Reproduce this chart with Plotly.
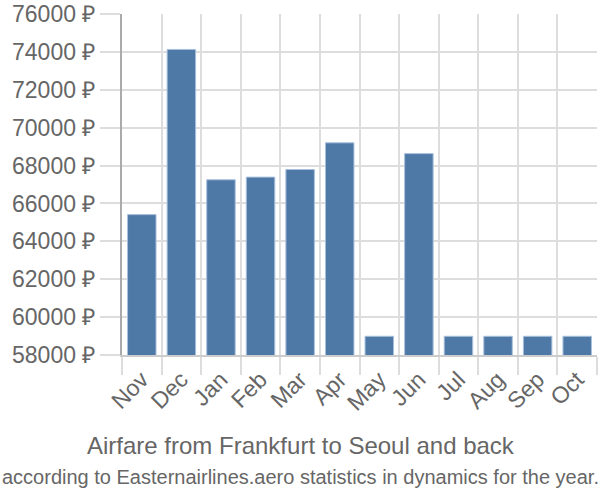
import plotly.graph_objects as go

months = ["Nov", "Dec", "Jan", "Feb", "Mar", "Apr", "May", "Jun", "Jul", "Aug", "Sep", "Oct"]
prices = [65410, 74130, 67250, 67390, 67790, 69200, 58990, 68630, 58990, 58990, 58990, 58990]
y_ticks = [58000, 60000, 62000, 64000, 66000, 68000, 70000, 72000, 74000, 76000]
y_labels = [f"{v} ₽" for v in y_ticks]

fig = go.Figure(go.Bar(
    x=months, y=prices,
    marker=dict(color="#4e79a7", line=dict(color="#a9c1dd", width=1)),
    width=0.72,
))

font = "Liberation Sans, Arial, sans-serif"
fig.update_layout(
    width=600, height=500,
    margin=dict(l=122, r=3, t=14, b=145),
    plot_bgcolor="white", paper_bgcolor="white",
    showlegend=False,
    font=dict(family=font, color="#666666", size=18),
)
fig.add_annotation(text="Airfare from Frankfurt to Seoul and back", xref="paper", yref="paper",
                   x=(301 - 122) / 475, y=-(445 - 355) / 341, showarrow=False,
                   font=dict(size=24, color="#666666"), xanchor="center", yanchor="middle")
fig.add_annotation(text="according to Easternairlines.aero statistics in dynamics for the year.",
                   xref="paper", yref="paper",
                   x=(300 - 122) / 475, y=-(477 - 355) / 341, showarrow=False,
                   font=dict(size=20, color="#666666"), xanchor="center", yanchor="middle")

fig.update_xaxes(
    type="category", tickson="boundaries", ticks="outside", ticklen=18,
    tickcolor="#dddddd", tickwidth=2, showgrid=True, gridcolor="#dddddd", gridwidth=2,
    showline=True, linecolor="#cccccc", linewidth=2, tickangle=-45,
    tickfont=dict(size=23, color="#666666"), automargin=False,
)
fig.update_yaxes(
    range=[58000, 76000], tickvals=y_ticks, ticktext=y_labels,
    ticks="outside", ticklen=20, tickcolor="#dddddd", tickwidth=2,
    showgrid=True, gridcolor="#dddddd", gridwidth=2,
    showline=True, linecolor="#aaaaaa", linewidth=2,
    tickfont=dict(size=23, color="#666666"), zeroline=False, automargin=False,
)

# remove the page's default body margin so the figure fills the window exactly
fig.write_html("out.html", config={"displayModeBar": False},
               post_script="document.body.style.margin='0';")
